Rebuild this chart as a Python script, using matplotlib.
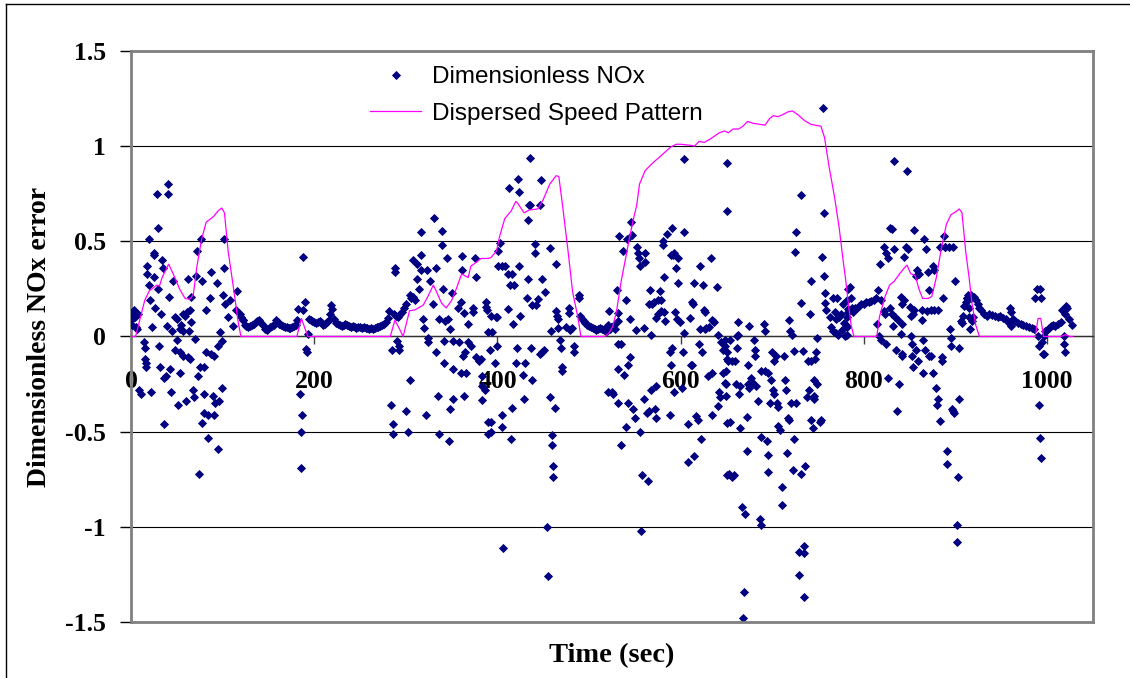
import matplotlib
matplotlib.use("Agg")
import matplotlib.pyplot as plt
from matplotlib.lines import Line2D

plt.rcParams['axes.unicode_minus'] = False

# scatter: dimensionless NOx error (time, value)
nox_0_125 = [
    (0.7, 0.06), (1.5, 0.09), (2.5, 0.12), (3.5, 0.14), (4.5, 0.10), (5.5, 0.05), (6.5, 0.04), (7.5, 0.12),
    (9, -0.28), (10.5, -0.30), (14.5, -0.03), (15, -0.06), (15.5, -0.12), (16, -0.14), (16.5, -0.16),
    (17, 0.37), (18, 0.33), (19.6, 0.27), (19.6, 0.51), (21, 0.19), (22, -0.29), (23, 0.05), (25, 0.44),
    (25.5, 0.43), (25.5, 0.31), (26, 0.15), (28, 0.75), (29, 0.57), (30, 0.25), (30.5, -0.05), (32, -0.16),
    (33, 0.12), (34, 0.40), (35, 0.36), (36, -0.22), (36.4, -0.46), (38, -0.21), (39, 0.055), (40, 0.80),
    (40.7, 0.75), (42, 0.21), (42.5, -0.17), (44, -0.29), (44.5, 0.03), (46, 0.29), (48, 0.10), (48, -0.07),
    (50, 0.09), (50, -0.02), (51.6, -0.36), (53, 0.04), (53, -0.08), (53.5, -0.19), (55, 0.06), (57, 0.03),
    (57, 0.12), (57, -0.10), (59, 0.11), (60, -0.34), (61, 0.13), (62, 0.30), (62, -0.11), (63.6, 0.03),
    (64, 0.14), (64, -0.12), (66, 0.075), (66, 0.21), (68, -0.28), (69, -0.32), (70, -0.014), (71, 0.32),
    (72, 0.45), (73.5, -0.21), (74, -0.72), (75, -0.16), (76.4, 0.51), (77, 0.29), (78, -0.455), (80, -0.16),
    (80, -0.30), (80, -0.40), (82, 0.14), (82, -0.08), (84.4, -0.41), (84.4, -0.535), (86, 0.20), (87, 0.34),
    (87, -0.09), (89, -0.31), (91, -0.10), (91, -0.41), (91.6, -0.35), (93.5, 0.28), (95, -0.05), (95, -0.59),
    (96, -0.34), (97, 0.025), (99, -0.025), (99, -0.27), (100, 0.22), (101, 0.51), (102, 0.36), (102.5, 0.17),
    (106, 0.10), (108, 0.19), (111.6, 0.055), (115, 0.14), (116, 0.24), (119, 0.12), (122.5, 0.085),
]

nox_120_284 = [
    (120, 0.10), (122, 0.085), (124, 0.06), (126, 0.055), (128, 0.05), (130, 0.055), (132, 0.06), (134, 0.065),
    (136, 0.075), (138, 0.08), (140, 0.085), (142, 0.07), (144, 0.06), (146, 0.04), (148, 0.035), (150, 0.04),
    (152, 0.05), (154, 0.055), (156, 0.06), (158, 0.085), (160, 0.075), (162, 0.065), (164, 0.06), (166, 0.055),
    (168, 0.05), (170, 0.05), (172, 0.045), (174, 0.045), (176, 0.05), (178, 0.055), (180, 0.06),
    (181, 0.085), (182, 0.145), (184, -0.30), (185.5, -0.50), (186, -0.69), (187, -0.41), (188, 0.42),
    (188, 0.14), (190, 0.18), (191, -0.065), (192, -0.08), (193, 0.015),
    (194, 0.09), (196, 0.085), (198, 0.08), (200, 0.075), (202, 0.07), (204, 0.075), (206, 0.08), (208, 0.07),
    (210, 0.06), (212, 0.065), (214, 0.075), (216, 0.085), (217, 0.12), (218, 0.165), (219, 0.145), (222, 0.09),
    (224, 0.07), (226, 0.065), (228, 0.06), (230, 0.055), (232, 0.06), (234, 0.065), (236, 0.06), (238, 0.055),
    (240, 0.05), (242, 0.055), (244, 0.05), (246, 0.045), (248, 0.05), (250, 0.05), (252, 0.045), (254, 0.05),
    (256, 0.045), (258, 0.045), (260, 0.04), (262, 0.045), (264, 0.04), (266, 0.045), (268, 0.05), (270, 0.05),
    (272, 0.055), (274, 0.06), (276, 0.065), (278, 0.075), (280, 0.095), (282, 0.135),
]

nox_284_521 = [
    (284, -0.36), (285, -0.07), (286, -0.46), (286, -0.51), (287, 0.12), (288, 0.36), (288, 0.34), (289, 0.11),
    (290, -0.025), (291, 0.10), (292, -0.05), (293, -0.07), (294, 0.12), (296, 0.13), (298, 0.15), (300, -0.39),
    (300, 0.17), (302, -0.50), (304, -0.23), (304, 0.22), (306, 0.20), (308, 0.21), (308, 0.40), (310, 0.19),
    (312, 0.38), (312, 0.30), (314, 0.25), (316, 0.55), (317, 0.43), (316, 0.35), (319, 0.09), (320, 0.045),
    (322, -0.41), (324, -0.01), (324, -0.03), (323, 0.35), (326, 0.29), (330, 0.17), (331, 0.62), (333, 0.36),
    (333, -0.08), (335, -0.31), (336, -0.51), (336, 0.09), (339, 0.555), (339, 0.48), (340, 0.25), (342, -0.14),
    (342, -0.025), (343, 0.08), (345, 0.415), (346, 0.09), (347, -0.55), (348, -0.38), (348, 0.04), (350, 0.23),
    (352, -0.33), (352, -0.17), (352, -0.025), (357, 0.15), (358, -0.03), (360, 0.18), (360, -0.19), (361, 0.425),
    (361, 0.35), (362, -0.10), (364, 0.125), (364, -0.315), (365, -0.08), (366, -0.19), (368, 0.065), (368, -0.03),
    (371, -0.05), (373, 0.15), (373, 0.13), (376, 0.41), (377, 0.31), (377, -0.11), (380, -0.13), (382, -0.12),
    (383, -0.21), (383, -0.26), (383, -0.335), (386, -0.28), (388, 0.18), (388, 0.155), (389, 0.14), (390, 0.025),
    (390, -0.45), (390, -0.51), (392, -0.07), (393, -0.45), (393, -0.50), (393, 0.11), (394, 0.025), (397, -0.14),
    (398, 0.10), (399, -0.05), (399, 0.10), (401, 0.45), (401, 0.37), (403, 0.49), (405, 0.37), (405, -0.475),
    (405, -0.415), (406, -1.11), (408, 0.37), (412, 0.33), (412, 0.145), (413, 0.78), (414, 0.27), (415, -0.54),
    (416, 0.33), (416, -0.375), (417, 0.065), (418, 0.27), (420, -0.14), (421, -0.06), (422, 0.83), (424, 0.76),
    (424, 0.37), (425, 0.11), (428, -0.20), (429, -0.33), (430, -0.14), (432, 0.20), (433, 0.61), (433, 0.30),
    (434, 0.69), (435, 0.94), (436, 0.69), (437, -0.06), (438, 0.165), (438, -0.23), (441, 0.485), (441, 0.44),
    (442, 0.165), (444, 0.195), (446, 0.69), (446, -0.09), (447, 0.82), (449, 0.30), (449, -0.08), (451, -0.07),
    (452, 0.235), (454, -1.0), (455, -1.26), (457, 0.465), (457, -0.32), (458, 0.03), (459, -0.515), (459, -0.57),
    (461, -0.68), (461, -0.74), (463, -0.376), (464, 0.38), (464, 0.135), (465, 0.11), (466, 0.09), (466, 0.045),
    (468, -0.02), (469, -0.06), (470, -0.16), (470, -0.18), (475, 0.05), (478, 0.15), (478, 0.125), (479, 0.035),
    (481, 0.045), (484, -0.05), (484, -0.08), (489, 0.22), (489, 0.20),
    (490, 0.11), (492, 0.09), (494, 0.08), (496, 0.07), (498, 0.06), (500, 0.055), (502, 0.05), (504, 0.045),
    (506, 0.04), (508, 0.035), (510, 0.04), (512, 0.045), (514, 0.04), (516, 0.035), (518, 0.03), (520, 0.05),
    (521, -0.29),
]

nox_517_651 = [
    (517, 0.04), (519, 0.05), (520, 0.03), (521, 0.06), (522, 0.135), (523, 0.04), (524, 0.05), (525, -0.29),
    (526, -0.30), (527, 0.06), (528, 0.04), (530, 0.245), (532, 0.125), (532, -0.04), (532, 0.08), (532, -0.35),
    (532, -0.17), (533, 0.53), (535, -0.04), (535, -0.57), (537, 0.45), (538, -0.20), (540, 0.19), (540, -0.475),
    (541, 0.51), (542, -0.15), (543, -0.35), (545, -0.11), (545, 0.09), (546, 0.60), (547, 0.535), (548, -0.38),
    (550, -0.43), (551, 0.036), (552, 0.47), (553, 0.44), (554, 0.41), (556, 0.37), (556, -0.5), (558, -0.73),
    (557, -1.02), (560, 0.045), (560, -0.33), (561, 0.44), (561, 0.39), (563, -0.40), (564, -0.76), (565, -0.39),
    (565, 0.17), (567, 0.245), (568, 0.006), (568, -0.28), (569, 0.17), (571, 0.18), (572, -0.38), (573, -0.43),
    (573, -0.26), (573, 0.095), (575, 0.19), (575, 0.12), (577, 0.24), (578, 0.19), (579, 0.135), (581, 0.48),
    (581, 0.50), (582, 0.31), (582, 0.13), (583, 0.08), (585, 0.54), (588, -0.08), (588, -0.415), (589, -0.15),
    (589, 0.43), (590, 0.57), (591, -0.06), (592, 0.43), (593, -0.29), (593, 0.44), (594, 0.13), (595, 0.36),
    (596, 0.09), (597, 0.41), (597, 0.28), (599, 0.075), (601, -0.27), (602, -0.08), (604, 0.016), (604, 0.93),
    (604, 0.55), (608, -0.46), (608, -0.66), (610, 0.095), (611, -0.15), (612, -0.15), (612, 0.18), (613, 0.17),
    (614, -0.63), (614, 0.28), (617, -0.42), (619, -0.44), (620, -0.04), (621, 0.37), (621, 0.04), (622, -0.54),
    (623, -0.08), (624, 0.27), (625, 0.14), (626, 0.04), (627, 0.13), (628, 0.045), (630, -0.21), (631, 0.05),
    (633, 0.41), (634, -0.19), (634, -0.415), (634, 0.085), (635, 0.08), (636, 0.075), (640, 0.26), (641, 0.006),
    (641, -0.365), (642, -0.29), (643, -0.32), (644, -0.03), (646, -0.07), (646, -0.19), (648, -0.05),
    (648, -0.245), (650, 0.66), (651, 0.91), (651, -0.455), (651, -0.73),
]

nox_648_783 = [
    (648, -0.02), (649, -0.18), (649, -0.25), (649, -0.31), (650, -0.08), (651, -0.12), (652, -0.13), (653, -0.72),
    (654, -0.45), (654, -0.02), (656, -0.13), (656, -0.74), (658, -0.73), (659, -0.13), (660, -0.25), (661, 0.0),
    (661, -0.06), (662, 0.075), (663, 0.01), (664, -0.30), (665, -0.26), (665, -0.48), (667, -0.895), (668, -1.48),
    (669, -1.34), (670, -0.93), (672, -0.425), (672, -0.60), (673, -0.15), (673, -0.25), (675, 0.055), (675, -0.27),
    (677, -0.22), (678, -0.24), (680, -0.02), (681, -0.07), (681, -0.10), (682, -0.26), (684, -0.34), (686, -0.96),
    (688, -0.99), (688, -0.53), (688, -0.18), (691, 0.065), (692, 0.03), (692, -0.18), (694, -0.55), (695, -0.62),
    (695, -0.71), (695, -0.19), (697, -0.35), (699, -0.23), (700, -0.08), (701, -0.28), (702, -0.30), (702, -0.13),
    (704, -0.10), (705, -0.35), (706, -0.37), (706, -0.47), (708, -0.49), (711, -0.79), (711, -0.885), (713, -0.10),
    (714, -0.23), (715, -0.28), (716, -0.61), (717, -0.43), (718, -0.44), (718, 0.085), (719, 0.03), (721, 0.006),
    (720, -0.35), (723, -0.70), (724, -0.54), (724, -0.075), (725, 0.445), (726, 0.55), (726, -0.35), (729, -1.13),
    (729, -1.255), (731, 0.745), (731, 0.175), (731, -0.72), (733, -0.075), (735, -1.10), (735, -1.14),
    (735, -1.37), (736, -0.68), (738, -0.32), (739, -0.13), (740, -0.28), (741, 0.12), (742, 0.29), (742, -0.13),
    (742, -0.44), (744, -0.48), (745, -0.31), (745, -0.33), (745, -0.23), (747, -0.12), (748, -0.08), (749, -0.25),
    (749, -0.01), (752, -0.45), (753, -0.44), (754, 0.42), (755, 1.20), (756, 0.32), (756, 0.65), (758, 0.23),
    (758, 0.175), (759, 0.14), (763, 0.10), (764, 0.05), (766, 0.20), (766, 0.03), (768, 0.13), (769, 0.02),
    (770, 0.09), (771, 0.20), (772, 0.01), (773, 0.10), (775, 0.12), (776, 0.035), (777, 0.17), (778, 0.07),
    (779, 0.0), (780, 0.06), (783, 0.145), (783, 0.25),
]

nox_781_913 = [
    (781, 0.19), (782, 0.10), (782, 0.05), (782, 0.006), (783, 0.13), (785, 0.26), (786, 0.20), (787, 0.15),
    (788, 0.13), (790, 0.15), (792, 0.15), (795, 0.16), (797, 0.17), (800, 0.17), (802, 0.18), (805, 0.18),
    (808, 0.185), (811, 0.19), (813, 0.20), (814, 0.065), (815, 0.245), (816, -0.0), (818, 0.38), (819, 0.19),
    (819, -0.02), (822, 0.47), (822, 0.135), (823, 0.12), (824, -0.04), (824, 0.44), (826, 0.41), (826, -0.22),
    (828, 0.57), (828, 0.15), (831, 0.565), (831, 0.12), (832, 0.055), (833, 0.92), (833, 0.46), (834, 0.10),
    (835, -0.07), (837, 0.085), (838, -0.25), (836, -0.39), (840, 0.015), (840, 0.21), (841, 0.065), (841, 0.17),
    (842, -0.10), (842, -0.09), (844, 0.42), (844, 0.19), (846, 0.47), (847, 0.87), (848, 0.46), (850, 0.155),
    (851, 0.11), (851, 0.0), (852, -0.04), (852, -0.10), (853, -0.16), (853, 0.12), (855, 0.56), (855, 0.14),
    (857, 0.32), (857, -0.07), (858, 0.35), (859, -0.13), (860, 0.33), (863, 0.085), (863, 0.14), (864, -0.02),
    (864, -0.19), (866, 0.51), (867, -0.07), (868, 0.46), (869, 0.135), (870, 0.34), (871, 0.245), (871, -0.10),
    (873, 0.14), (873, -0.10), (875, 0.37), (875, -0.19), (876, 0.35), (877, 0.14), (879, -0.27), (880, -0.36),
    (881, 0.14), (881, -0.33), (883, -0.445), (883, 0.47), (885, -0.11), (885, -0.13), (886, 0.20), (887, 0.53),
    (888, 0.47), (889, 0.47), (891, -0.60), (891, -0.67), (893, 0.47), (894, 0.04), (895, -0.01), (895, -0.05),
    (896, -0.38), (897, -0.39), (897, 0.47), (898, -0.40), (899, 0.29), (902, -0.99), (902, -1.08), (903, -0.74),
    (904, -0.33), (904, -0.06), (906, 0.08), (907, 0.07), (908, 0.11), (909, 0.16), (911, 0.18), (913, 0.20),
]

nox_912_1027 = [
    (912, 0.20), (914, 0.22), (915, 0.15), (915, 0.10), (916, 0.04), (917, 0.20), (918, 0.08), (919, 0.10),
    (917, 0.22), (920, 0.21), (922, 0.19), (924, 0.17), (926, 0.15), (928, 0.14), (931, 0.12), (934, 0.11),
    (937, 0.12), (940, 0.115), (943, 0.11), (946, 0.105), (949, 0.11), (952, 0.095), (955, 0.09), (957, 0.075),
    (959, 0.15), (960, 0.13), (961, 0.055), (963, 0.09), (965, 0.08), (968, 0.07), (971, 0.065), (974, 0.06),
    (977, 0.055), (980, 0.05), (983, 0.045), (986, 0.04), (987, 0.20), (989, 0.25), (990, -0.0), (991, -0.05),
    (991, -0.36), (992, 0.25), (992, -0.535), (993, -0.64), (993, 0.20), (994, -0.03), (995, -0.09), (996, 0.0),
    (997, -0.09), (998, 0.03), (1000, 0.035), (1002, 0.045), (1004, 0.055), (1006, 0.06), (1009, 0.055),
    (1012, 0.065), (1015, 0.075), (1016, 0.14), (1018, 0.0), (1018, -0.04), (1019, -0.08), (1019, 0.12),
    (1021, 0.16), (1022, 0.15), (1024, 0.09), (1027, 0.06),
]

# dispersed speed pattern (time, value)
speed_pattern = [
    (0, 0), (5, 0), (10, 0.095), (15, 0.19), (20, 0.24), (28, 0.27), (31, 0.265), (34, 0.31), (41, 0.38),
    (46, 0.33), (53, 0.25), (59, 0.20), (64, 0.195), (68, 0.22), (72, 0.37), (77, 0.51), (82, 0.60), (90, 0.63),
    (95, 0.66), (99, 0.675), (102, 0.65), (106, 0.45), (112, 0.25), (117, 0.075), (120, 0), (181, 0), (186, 0.095),
    (193, 0), (283, 0), (288, 0.085), (292, 0.05), (297, 0), (304, 0.135), (310, 0.14), (319, 0.165), (324, 0.21),
    (330, 0.27), (333, 0.24), (339, 0.175), (344, 0.15), (350, 0.19), (355, 0.25), (361, 0.33), (364, 0.32),
    (368, 0.31), (371, 0.37), (377, 0.39), (382, 0.41), (390, 0.41), (393, 0.415), (399, 0.45), (402, 0.52),
    (408, 0.62), (415, 0.66), (420, 0.71), (422, 0.70), (429, 0.65), (435, 0.665), (444, 0.67), (450, 0.72),
    (457, 0.80), (464, 0.845), (467, 0.84), (471, 0.69), (477, 0.45), (482, 0.235), (488, 0.095), (491, 0),
    (517, 0), (522, 0.02), (526, 0.055), (530, 0.135), (535, 0.29), (543, 0.49), (548, 0.61), (552, 0.69),
    (555, 0.80), (561, 0.87), (568, 0.905), (575, 0.935), (582, 0.965), (589, 0.995), (595, 1.01), (600, 1.01),
    (610, 1.005), (615, 1.0), (620, 1.025), (626, 1.02), (633, 1.04), (642, 1.07), (648, 1.08), (652, 1.07),
    (657, 1.09), (663, 1.09), (668, 1.105), (673, 1.13), (679, 1.12), (686, 1.115), (692, 1.11), (697, 1.145),
    (701, 1.16), (706, 1.155), (711, 1.165), (717, 1.18), (722, 1.185), (728, 1.165), (735, 1.135), (742, 1.115),
    (747, 1.11), (753, 1.105), (757, 1.045), (762, 0.89), (768, 0.73), (773, 0.57), (777, 0.41), (780, 0.30),
    (783, 0.17), (786, 0.06), (789, 0), (814, 0), (817, 0.105), (823, 0.21), (828, 0.27), (833, 0.29), (839, 0.33),
    (844, 0.36), (847, 0.375), (851, 0.33), (856, 0.32), (860, 0.25), (864, 0.20), (870, 0.20), (874, 0.21),
    (879, 0.31), (884, 0.45), (890, 0.59), (895, 0.64), (900, 0.655), (904, 0.67), (907, 0.65), (911, 0.45),
    (915, 0.30), (918, 0.17), (922, 0.06), (926, 0), (987, 0), (990, 0.095), (993, 0.095), (996, 0), (1000, 0),
    (1015, 0), (1020, 0.01), (1025, 0), (1028, 0),
]

x_ticks = [0, 200, 400, 600, 800, 1000]
x_tick_labels = ['0', '200', '400', '600', '800', '1000']
y_ticks = [-1.5, -1, -0.5, 0, 0.5, 1, 1.5]
y_tick_labels = ['-1.5', '-1', '-0.5', '0', '0.5', '1', '1.5']

W, H = 1130, 678
fig = plt.figure(figsize=(W / 100, H / 100), dpi=100)
ax = fig.add_axes([131 / W, 1 - 622 / H, (1093 - 131) / W, (622 - 51) / H])

nox = (nox_0_125 + nox_120_284 + nox_284_521 + nox_517_651
       + nox_648_783 + nox_781_913 + nox_912_1027)
nox_t = [p[0] for p in nox]
nox_v = [p[1] for p in nox]
sp_t = [p[0] for p in speed_pattern]
sp_v = [p[1] for p in speed_pattern]

ax.plot(nox_t, nox_v, linestyle='none', marker='D', markersize=4.5,
        color='#000080', markeredgewidth=0.6, label='Dimensionless NOx', zorder=3)
ax.plot(sp_t, sp_v, color='#FF00FF', linewidth=0.9, label='Dispersed Speed Pattern', zorder=4)

ax.set_xlim(0, 1050)
ax.set_ylim(-1.5, 1.5)

# move the x axis to y = 0 first (this resets the ticks)
ax.spines['bottom'].set_position(('data', 0))
ax.spines['bottom'].set_color('#303030')
ax.spines['bottom'].set_linewidth(1)
for side in ('left', 'top', 'right'):
    ax.spines[side].set_color('#808080')
    ax.spines[side].set_linewidth(2)
ax.axhline(-1.5, color='#808080', linewidth=2, clip_on=False, zorder=5)

serif = {'family': 'Liberation Serif', 'weight': 'bold'}
ax.set_yticks(y_ticks)
ax.set_yticklabels(y_tick_labels, fontdict=serif, fontsize=18.5)
ax.set_xticks(x_ticks)
ax.set_xticklabels(x_tick_labels, fontdict=serif, fontsize=18.5)
ax.tick_params(axis='y', direction='out', length=8, width=1, color='black', pad=10)
ax.tick_params(axis='x', direction='out', length=6, width=1, color='#404040', pad=18)

ax.grid(axis='y', color='black', linewidth=0.8)
ax.set_axisbelow(True)

ax.set_xlabel('Time (sec)', fontdict=serif, fontsize=20.5)
ax.xaxis.set_label_coords(0.5, (622 - 643) / 571)
ax.set_ylabel('Dimensionless NOx error', fontdict=serif, fontsize=20, va='center')
ax.yaxis.set_label_coords((40 - 131) / 962, 0.5)

ax.legend(loc='upper left', bbox_to_anchor=(370 / W, 1 - 66 / H), bbox_transform=fig.transFigure,
          frameon=False, prop={'family': 'Liberation Sans', 'size': 17.5}, handlelength=2.1,
          handletextpad=0.45, labelspacing=0.6, borderpad=0, borderaxespad=0, numpoints=1)

# outer chart-area border (left and top visible in the picture)
fig.add_artist(Line2D([6 / W, 6 / W], [0, 1 - 4 / H], color='black', linewidth=1))
fig.add_artist(Line2D([6 / W, 1], [1 - 4 / H, 1 - 4 / H], color='black', linewidth=1))

fig.savefig('out.png', dpi=100)
